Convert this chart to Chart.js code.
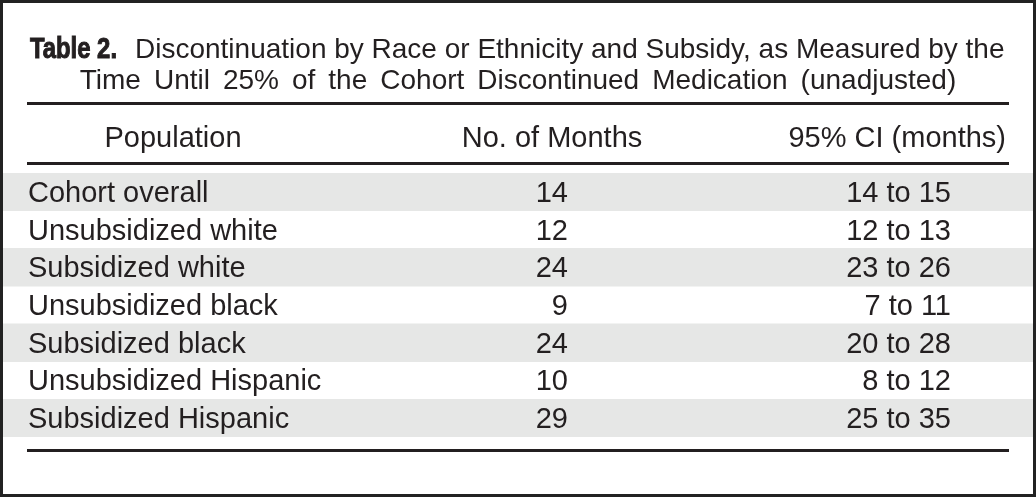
<!DOCTYPE html>
<html>
<head>
<meta charset="utf-8">
<script src="https://cdn.jsdelivr.net/npm/chart.js@4.4.1/dist/chart.umd.min.js"></script>
<style>
  html, body { margin: 0; padding: 0; background: #fff; }
  #wrap { position: relative; width: 1036px; height: 497px; }
</style>
</head>
<body>
<div id="wrap"><canvas id="tbl"></canvas></div>
<script>
// ---- table content ----
const titleBold = 'Table 2.';
const titleLine1 = 'Discontinuation by Race or Ethnicity and Subsidy, as Measured by the';
const titleLine2 = 'Time Until 25% of the Cohort Discontinued Medication (unadjusted)';
const columnHeaders = ['Population', 'No. of Months', '95% CI (months)'];
const populations = [
  'Cohort overall',
  'Unsubsidized white',
  'Subsidized white',
  'Unsubsidized black',
  'Subsidized black',
  'Unsubsidized Hispanic',
  'Subsidized Hispanic'
];
const months = [14, 12, 24, 9, 24, 10, 29];
const ciLow  = [14, 12, 23, 7, 20, 8, 25];
const ciHigh = [15, 13, 26, 11, 28, 12, 35];

// ---- look & layout (x in scale units = px from the frame) ----
const INK = '#231f20';
const SHADE = '#e6e7e6';
const FONT = '"Liberation Sans", Arial, sans-serif';
const BODY_SIZE = 29;
const TITLE_SIZE = 28;
const X_MAX = 1030;
const COL_POP_LEFT = 25, COL_MONTHS_RIGHT = 565, COL_CI_RIGHT = 948;
const HEAD_POP_CENTER = 170, HEAD_MONTHS_CENTER = 549, HEAD_CI_RIGHT = 1003;
const RULE_FROM = 24, RULE_TO = 1006;
const TITLE_BOLD_LEFT = 27, TITLE_BOLD_WIDTH = 87, TITLE_TEXT_LEFT = 132;
const TITLE_BASE1 = 58, TITLE_BASE2 = 89, TITLE_WORD_GAP = 13;

// shaded bands on every other row
const bandData = populations.map((p, i) => (i % 2 === 0 ? [0, X_MAX] : null));

const tablePlugin = {
  id: 'tableText',
  afterDatasetsDraw(chart) {
    const { ctx, scales: { x, y }, chartArea } = chart;
    const body = `${BODY_SIZE}px ${FONT}`;
    const regular = `${TITLE_SIZE}px ${FONT}`;
    ctx.save();
    ctx.fillStyle = INK;
    ctx.font = body;
    ctx.textBaseline = 'alphabetic';
    populations.forEach((name, i) => {
      const base = y.getPixelForValue(i) + 10;
      ctx.textAlign = 'left';
      ctx.fillText(name, x.getPixelForValue(COL_POP_LEFT), base);
      ctx.textAlign = 'right';
      ctx.fillText(String(months[i]), x.getPixelForValue(COL_MONTHS_RIGHT), base);
      ctx.fillText(ciLow[i] + ' to ' + ciHigh[i], x.getPixelForValue(COL_CI_RIGHT), base);
    });

    // column headers
    const headBase = chartArea.top - 26;
    ctx.textAlign = 'center';
    ctx.fillText(columnHeaders[0], x.getPixelForValue(HEAD_POP_CENTER), headBase);
    ctx.fillText(columnHeaders[1], x.getPixelForValue(HEAD_MONTHS_CENTER), headBase);
    ctx.textAlign = 'right';
    ctx.fillText(columnHeaders[2], x.getPixelForValue(HEAD_CI_RIGHT), headBase);

    // title line 1: condensed heavy label + text
    ctx.textAlign = 'left';
    ctx.font = `bold ${TITLE_SIZE + 1}px ${FONT}`;
    const sx = TITLE_BOLD_WIDTH / ctx.measureText(titleBold).width;
    ctx.save();
    ctx.translate(x.getPixelForValue(TITLE_BOLD_LEFT), TITLE_BASE1);
    ctx.scale(sx, 1);
    ctx.strokeStyle = INK;
    ctx.lineWidth = 1;
    ctx.fillText(titleBold, 0, 0);
    ctx.strokeText(titleBold, 0, 0);
    ctx.restore();
    ctx.font = regular;
    ctx.fillText(titleLine1, x.getPixelForValue(TITLE_TEXT_LEFT), TITLE_BASE1);

    // title line 2: centred, wider word gaps
    const mid = (x.getPixelForValue(RULE_FROM) + x.getPixelForValue(RULE_TO)) / 2;
    const words = titleLine2.split(' ');
    const widths = words.map(w => ctx.measureText(w).width);
    const total = widths.reduce((a, b) => a + b, 0) + TITLE_WORD_GAP * (words.length - 1);
    let wx = mid - total / 2;
    words.forEach((w, i) => {
      ctx.fillText(w, wx, TITLE_BASE2);
      wx += widths[i] + TITLE_WORD_GAP;
    });

    // rules
    const x0 = x.getPixelForValue(RULE_FROM), x1 = x.getPixelForValue(RULE_TO);
    [chartArea.top - 71, chartArea.top - 11, chartArea.bottom + 12].forEach(ry => {
      ctx.fillRect(x0, ry, x1 - x0, 3);
    });

    // outer frame
    ctx.strokeStyle = '#222';
    ctx.lineWidth = 3;
    ctx.strokeRect(1.5, 1.5, chart.width - 3, chart.height - 3);
    ctx.restore();
  }
};

new Chart(document.getElementById('tbl'), {
  type: 'bar',
  data: {
    labels: populations,
    datasets: [{
      data: bandData,
      backgroundColor: SHADE,
      borderWidth: 0,
      barPercentage: 1,
      categoryPercentage: 1
    }]
  },
  options: {
    indexAxis: 'y',
    responsive: true,
    maintainAspectRatio: false,
    animation: false,
    layout: { padding: { top: 173, bottom: 60, left: 3, right: 3 } },
    plugins: { legend: { display: false }, tooltip: { enabled: false } },
    scales: {
      x: { display: false, min: 0, max: X_MAX },
      y: { display: false }
    }
  },
  plugins: [tablePlugin]
});
</script>
</body>
</html>
